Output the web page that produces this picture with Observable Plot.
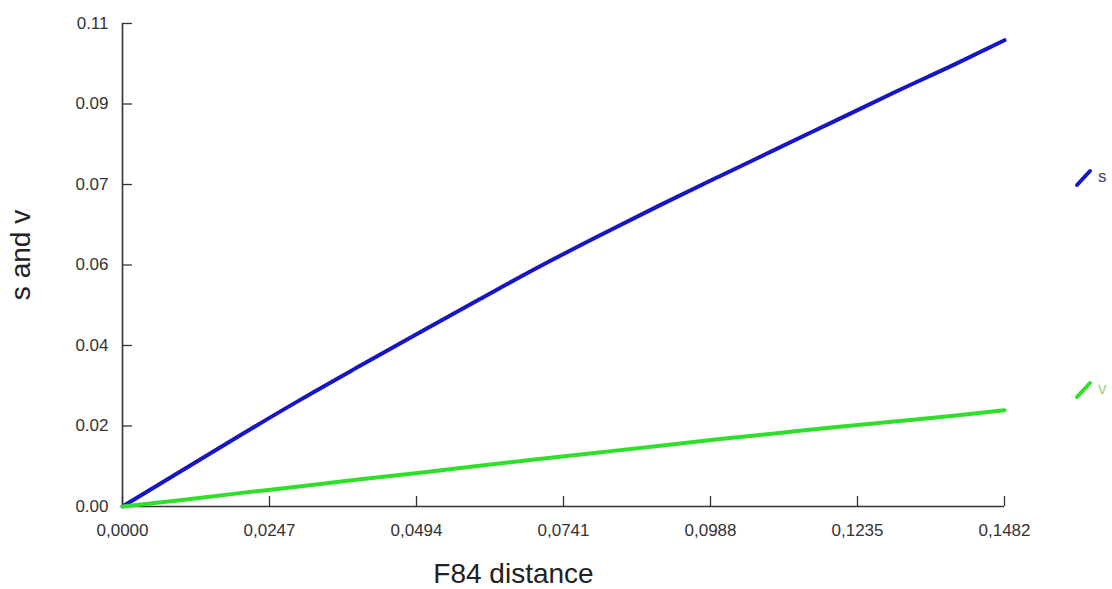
<!DOCTYPE html>
<html>
<head>
<meta charset="utf-8">
<script src="https://cdn.jsdelivr.net/npm/d3@7"></script>
<script src="https://cdn.jsdelivr.net/npm/@observablehq/plot@0.6"></script>
<style>
  html, body { margin: 0; padding: 0; background: #fff; overflow: hidden; }
  #wrap { position: relative; width: 1112px; height: 589px; font-family: "Liberation Sans", Arial, sans-serif; }
  #wrap svg.plot { display: block; }
  .leg { position: absolute; }
</style>
</head>
<body>
<div id="wrap"></div>
<script>
// ---- data ----
const xTicks = [0, 0.0247, 0.0494, 0.0741, 0.0988, 0.1235, 0.1482];
const xTickLabels = ["0,0000", "0,0247", "0,0494", "0,0741", "0,0988", "0,1235", "0,1482"];
const yTicks = [0, 0.018333, 0.036667, 0.055, 0.073333, 0.091667, 0.11];
const yTickLabels = ["0.00", "0.02", "0.04", "0.06", "0.07", "0.09", "0.11"];

const distance = [0, 0.01, 0.02, 0.03, 0.04, 0.05, 0.06, 0.07, 0.08, 0.09, 0.10, 0.11, 0.12, 0.13, 0.14, 0.1482];
const sValues  = [0, 0.0082, 0.0164, 0.0244, 0.0321, 0.0397, 0.0472, 0.0546, 0.0616, 0.0684, 0.0750, 0.0815, 0.0880, 0.0945, 0.1008, 0.1062];
const vValues  = [0, 0.0015, 0.0031, 0.0046, 0.0062, 0.0077, 0.0093, 0.0108, 0.0123, 0.0138, 0.0153, 0.0167, 0.0181, 0.0194, 0.0207, 0.0219];

const seriesNames = ["s", "v"];
const seriesColors = ["#1616c4", "#2ee02a"];
const legendTextColors = ["#3b3b78", "#8fdc8a"];

const xLabel = "F84 distance";
const yLabel = "s and v";

// ---- table for the library ----
const rows = [];
distance.forEach((d, i) => {
  rows.push({x: d, y: sValues[i], series: "s"});
  rows.push({x: d, y: vValues[i], series: "v"});
});

const W = 1112, H = 589, ML = 122, MR = 108, MT = 23, MB = 83;
const tickLen = 10;
const axisColor = "#333";
const labelColor = "#333";

const chart = Plot.plot({
  width: W,
  height: H,
  marginLeft: ML,
  marginRight: MR,
  marginTop: MT,
  marginBottom: MB,
  style: { fontFamily: '"Liberation Sans", Arial, sans-serif', background: "#fff", overflow: "visible" },
  x: { domain: [0, 0.1482] },
  y: { domain: [0, 0.11] },
  color: { domain: seriesNames, range: seriesColors },
  marks: [
    Plot.axisX(xTicks, {
      tickSize: 0, tickPadding: 17, fontSize: 17, fill: labelColor, label: null,
      tickFormat: d => xTickLabels[xTicks.indexOf(d)]
    }),
    Plot.axisY(yTicks, {
      tickSize: 0, tickPadding: 14, fontSize: 17, fill: labelColor, label: null,
      tickFormat: d => yTickLabels[yTicks.indexOf(d)]
    }),
    // inward-pointing ticks
    Plot.ruleX(xTicks, { x: d => d, insetTop: (H - MT - MB) - tickLen, stroke: axisColor, strokeWidth: 1.3 }),
    Plot.ruleY(yTicks, { y: d => d, insetRight: (W - ML - MR) - tickLen, stroke: axisColor, strokeWidth: 1.3 }),
    Plot.ruleX([0], { stroke: axisColor, strokeWidth: 1.6 }),
    Plot.ruleY([0], { stroke: axisColor, strokeWidth: 1.6 }),
    Plot.line(rows, { x: "x", y: "y", stroke: "series", strokeWidth: 4, curve: "monotone-x" }),
    Plot.text([xLabel], { text: d => d, frameAnchor: "bottom", textAnchor: "middle", dx: -50, dy: 57, lineAnchor: "top", fontSize: 28, fill: "#222" }),
    Plot.text([yLabel], { text: d => d, frameAnchor: "left", textAnchor: "middle", dx: -101, dy: -10, rotate: -90, lineAnchor: "middle", fontSize: 28, fill: "#222" })
  ]
});

const wrap = document.getElementById("wrap");
wrap.appendChild(chart);

// ---- legend on the right ----
const legendTops = [171, 383];
seriesNames.forEach((name, i) => {
  const top = legendTops[i];
  const sw = document.createElementNS("http://www.w3.org/2000/svg", "svg");
  sw.setAttribute("width", 20);
  sw.setAttribute("height", 20);
  sw.setAttribute("class", "leg");
  sw.style.left = "1073px";
  sw.style.top = (top - 3) + "px";
  const ln = document.createElementNS("http://www.w3.org/2000/svg", "line");
  ln.setAttribute("x1", 4); ln.setAttribute("y1", 17);
  ln.setAttribute("x2", 17); ln.setAttribute("y2", 3);
  ln.setAttribute("stroke", seriesColors[i]);
  ln.setAttribute("stroke-width", 4);
  ln.setAttribute("stroke-linecap", "round");
  sw.appendChild(ln);
  wrap.appendChild(sw);
  const t = document.createElement("div");
  t.className = "leg";
  t.textContent = name;
  t.style.left = "1098px";
  t.style.top = (top - 4) + "px";
  t.style.fontSize = "17px";
  t.style.color = legendTextColors[i];
  wrap.appendChild(t);
});
</script>
</body>
</html>
